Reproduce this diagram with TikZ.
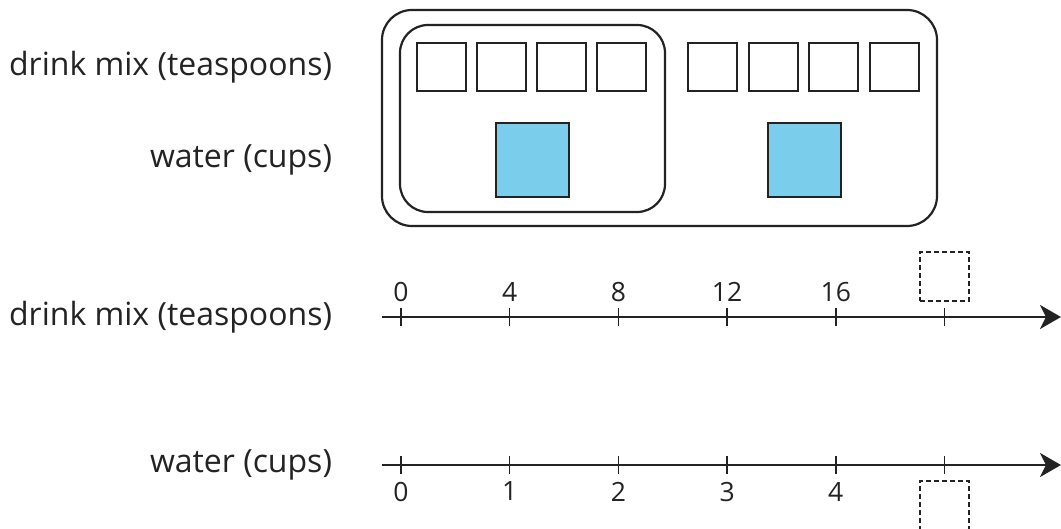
\documentclass[tikz,border=0pt]{standalone}
\usepackage{fontspec}
\setmainfont{Open Sans}
\usepackage{xcolor}
\usetikzlibrary{arrows.meta,calc,positioning}
\definecolor{inkline}{RGB}{35,35,35}
\definecolor{waterblue}{RGB}{122,206,235}

\begin{document}
\begin{tikzpicture}[x=1pt, y=-1pt]
	\tikzstyle{every node} = [inner sep=0pt, outer sep=0pt]
	\tikzstyle{rowlabel} = [anchor=east, font=\fontsize{32}{38}\selectfont, text=inkline]
	\tikzstyle{num} = [font=\fontsize{26.5}{30}\selectfont, text=inkline]
	\tikzstyle{cell} = [draw=inkline, line width=2pt, minimum width=49pt, minimum height=48pt]
	\tikzstyle{cup} = [draw=inkline, line width=2pt, fill=waterblue, minimum width=73pt, minimum height=74pt]
	\tikzstyle{group} = [draw=inkline, line width=2.2pt, rounded corners=30pt]
	\tikzstyle{blank} = [draw=inkline, line width=2.6pt, dash pattern=on 5pt off 3pt, minimum width=49pt, minimum height=49pt]
	\tikzstyle{axis} = [draw=inkline, line width=2.8pt, -{Stealth[length=21pt, width=24pt, inset=6pt]}]
	\tikzstyle{tick} = [draw=inkline, line width=1.5pt]
	\useasboundingbox (0,0) rectangle (1061,529);

	% tape diagram
\node[group, minimum width=555pt, minimum height=216pt] (all) at (659.5, 118) {};
\node[group, minimum width=265pt, minimum height=187pt, rounded corners=28pt] (one) at (532.5, 118.5) {};
	\foreach \i/\x in {1/441.5, 2/501.5, 3/561.5, 4/621.5, 5/712.5, 6/773.5, 7/833.5, 8/894.5}
		\node[cell] (mix\i) at (\x, 67) {};
\node[cup] (cup1) at (532.5, 160) {};
\node[cup] (cup2) at (804.5, 160) {};

	% row labels
\node[rowlabel] (mixlab) at (332, 67) {drink mix (teaspoons)};
\node[rowlabel] (waterlab) at (332, 160) {water (cups)};
\node[rowlabel] (mixaxislab) at (332, 317) {drink mix (teaspoons)};
\node[rowlabel] (wateraxislab) at (332, 465) {water (cups)};

	% double number line
\coordinate (mstart) at (382, 317);
\coordinate (mend) at (1061, 317);
\coordinate (wstart) at (382, 465);
\coordinate (wend) at (1061, 465);
	\path[axis] (mstart) -- (mend);
	\path[axis] (wstart) -- (wend);
	\foreach \k in {0,...,5} {
		\coordinate (mt\k) at (401+108.7*\k, 317);
		\coordinate (wt\k) at (401+108.7*\k, 465);
		\path[tick] (mt\k) ++(0,-9) -- ++(0,18);
		\path[tick] (wt\k) ++(0,-9) -- ++(0,18);
	}
	\foreach \k/\m/\w in {0/0/0, 1/4/1, 2/8/2, 3/12/3, 4/16/4} {
		\node[num, above=15pt of mt\k] (mn\k) {\m};
		\node[num, below=17pt of wt\k] (wn\k) {\w};
	}
\node[blank, above=16pt of mt5] (mblank) {};
\node[blank, below=16pt of wt5] (wblank) {};
\end{tikzpicture}
\end{document}
